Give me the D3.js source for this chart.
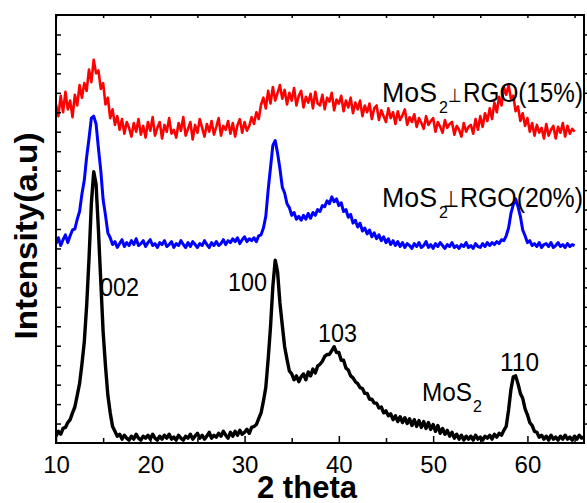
<!DOCTYPE html>
<html>
<head>
<meta charset="utf-8">
<script src="https://cdn.jsdelivr.net/npm/d3@7"></script>
<style>
  body { margin: 0; background: #fff; }
  text { font-family: "Liberation Sans", Arial, sans-serif; }
</style>
</head>
<body>
<div id="chartContainer"></div>
<script>
// 2 theta grid, 0.25 deg steps
const theta = d3.range(10, 66.001, 0.25)

const mos2 = [
  7, 12, 9, 15, 16, 21, 24, 31, 37, 49, 61, 81, 104, 141, 189, 246,
  279, 266, 219, 166, 114, 79, 49, 31, 17, 12, 7, 9, 4, 8, 5, 3,
  7, 4, 9, 5, 3, 7, 5, 8, 4, 9, 5, 3, 7, 4, 8, 5,
  9, 4, 6, 3, 8, 5, 3, 7, 5, 9, 4, 7, 10, 5, 8, 4,
  7, 11, 5, 8, 6, 10, 7, 12, 8, 5, 11, 7, 12, 8, 13, 9,
  11, 14, 10, 16, 17, 19, 25, 31, 43, 57, 86, 119, 161, 188, 176, 144,
  121, 99, 86, 74, 71, 65, 69, 63, 68, 71, 65, 73, 69, 76, 72, 79,
  81, 84, 89, 91, 91, 95, 99, 93, 93, 85, 85, 77, 75, 69, 67, 63,
  61, 57, 56, 51, 51, 45, 45, 41, 41, 36, 37, 31, 33, 28, 30, 24,
  28, 22, 27, 21, 26, 20, 25, 18, 24, 17, 23, 16, 22, 15, 21, 14,
  19, 12, 18, 10, 15, 9, 13, 7, 11, 5, 9, 4, 8, 3, 7, 4,
  7, 3, 8, 4, 6, 3, 7, 5, 8, 4, 9, 6, 10, 8, 13, 17,
  34, 55, 68, 69, 61, 51, 46, 35, 29, 21, 18, 12, 11, 6, 8, 4,
  7, 3, 8, 4, 6, 3, 7, 4, 8, 4, 6, 3, 7, 4, 8, 5,
  6
]

const rgo20 = [
  205, 211, 203, 209, 214, 206, 213, 219, 220, 230, 238, 256, 270, 294, 313, 334,
  336, 328, 303, 280, 250, 234, 216, 211, 204, 207, 201, 205, 209, 202, 206, 203,
  208, 204, 210, 203, 205, 208, 202, 206, 209, 203, 205, 201, 206, 204, 208, 202,
  204, 207, 201, 205, 203, 208, 204, 201, 206, 202, 207, 204, 201, 205, 203, 208,
  204, 201, 206, 203, 207, 203, 205, 209, 204, 208, 206, 210, 207, 211, 205, 209,
  212, 207, 210, 208, 211, 207, 213, 214, 221, 233, 260, 283, 306, 311, 298, 282,
  263, 257, 246, 242, 234, 237, 230, 233, 229, 234, 230, 236, 231, 237, 234, 240,
  238, 244, 243, 249, 246, 253, 248, 251, 244, 247, 238, 240, 232, 235, 226, 229,
  222, 226, 218, 221, 215, 219, 212, 216, 210, 214, 208, 212, 206, 210, 204, 208,
  203, 207, 202, 206, 201, 205, 203, 200, 205, 202, 206, 201, 203, 207, 201, 204,
  200, 205, 202, 206, 203, 200, 204, 202, 206, 201, 203, 200, 204, 202, 206, 201,
  203, 200, 205, 202, 201, 205, 202, 206, 203, 206, 204, 207, 205, 209, 208, 213,
  221, 236, 245, 251, 243, 233, 219, 213, 206, 208, 203, 205, 202, 206, 201, 204,
  205, 202, 206, 201, 203, 206, 202, 204, 201, 205, 202, 204,
  203
]

const rgo15 = [
  348, 336, 357, 340, 361, 343, 352, 335, 358, 347, 368, 355, 370, 362, 384, 371,
  394, 380, 383, 364, 370, 348, 355, 334, 343, 327, 336, 322, 333, 318, 330, 324,
  315, 329, 320, 333, 317, 326, 314, 330, 321, 335, 316, 324, 330, 313, 327, 320,
  334, 318, 322, 314, 329, 321, 335, 316, 323, 330, 312, 327, 319, 333, 324, 315,
  328, 320, 331, 317, 325, 334, 316, 326, 322, 331, 318, 329, 315, 327, 333, 319,
  330, 321, 326, 335, 328, 340, 333, 348, 355, 344, 362, 349, 366, 352, 360, 368,
  354, 363, 348, 360, 352, 365, 347, 357, 362, 345, 356, 350, 359, 344, 361, 349,
  347, 358, 343, 355, 351, 360, 342, 353, 349, 357, 341, 352, 345, 355, 339, 350,
  343, 352, 336, 347, 340, 349, 333, 344, 347, 332, 342, 336, 330, 344, 334, 340,
  328, 341, 332, 337, 343, 327, 335, 330, 338, 325, 334, 329, 323, 336, 327, 331,
  334, 320, 330, 325, 319, 332, 324, 328, 330, 317, 326, 322, 315, 329, 320, 325,
  327, 318, 333, 322, 336, 325, 339, 331, 344, 333, 350, 340, 356, 347, 366, 358,
  368, 354, 357, 341, 346, 331, 339, 326, 334, 320, 329, 316, 327, 319, 324, 313,
  328, 316, 322, 326, 313, 325, 319, 329, 315, 326, 318, 323,
  320
]

const series = [
  {name: "MoS2", values: mos2, color: "#000000", width: 3.4},
  {name: "MoS2-RGO(20%)", values: rgo20, color: "#0000ff", width: 3},
  {name: "MoS2-RGO(15%)", values: rgo15, color: "#ff0000", width: 2.6}
]

const xMajor = [10, 20, 30, 40, 50, 60]
const xMinor = [15, 25, 35, 45, 55, 65]

const peaks = [
  {label: "002", x: 100, y: 296},
  {label: "100", x: 228, y: 291},
  {label: "103", x: 318, y: 342},
  {label: "110", x: 500, y: 371}
]

const width = 587, height = 503
const margin = ({top: 15, right: 3, bottom: 60, left: 56})

const x = d3.scaleLinear()
    .domain([10, 66])
    .range([margin.left, width - margin.right])

const y = d3.scaleLinear()
    .domain([0, 440])
    .range([height - margin.bottom, margin.top])

const yTicks = d3.range(20, 440, 20)

const svg = d3.select('#chartContainer')
  .append('svg')
  .attr('width', width)
  .attr('height', height)

svg.append("clipPath")
    .attr("id", "plot")
  .append("rect")
    .attr("x", x(10))
    .attr("y", y(440))
    .attr("width", x(66) - x(10))
    .attr("height", y(0) - y(440))

let line = d3.line()
    .x((d, i) => x(theta[i]))
    .y(d => y(d))

svg.append("g")
    .attr("clip-path", "url(#plot)")
  .selectAll("path")
  .data(series)
  .join("path")
    .attr("fill", "none")
    .attr("stroke", d => d.color)
    .attr("stroke-width", d => d.width)
    .attr("stroke-linejoin", "round")
    .attr("d", d => line(d.values))

let noDomain = g => g.select(".domain").remove()

// bottom axis, ticks pointing in
svg.append("g")
    .attr("transform", `translate(0,${y(0)})`)
    .call(d3.axisBottom(x).tickValues(xMajor).tickSize(-7).tickPadding(13))
    .call(noDomain)
    .call(g => g.selectAll("line").attr("stroke-width", 1.5))
    .call(g => g.selectAll("text")
        .attr("font-size", 24)
        .attr("font-family", "Liberation Sans, Arial, sans-serif")
        .attr("fill", "#000"))

svg.append("g")
    .attr("transform", `translate(0,${y(0)})`)
    .call(d3.axisBottom(x).tickValues(xMinor).tickSize(-5).tickFormat(""))
    .call(noDomain)
    .call(g => g.selectAll("line").attr("stroke-width", 1.5))

svg.append("g")
    .attr("transform", `translate(0,${y(440)})`)
    .call(d3.axisTop(x).tickValues(xMajor.concat(xMinor)).tickSize(-3).tickFormat(""))
    .call(noDomain)
    .call(g => g.selectAll("line").attr("stroke-width", 1.5))

svg.append("g")
    .attr("transform", `translate(${x(10)},0)`)
    .call(d3.axisLeft(y).tickValues(yTicks).tickSize(-5).tickFormat(""))
    .call(noDomain)
    .call(g => g.selectAll("line").attr("stroke-width", 1.5))

svg.append("g")
    .attr("transform", `translate(${x(66)},0)`)
    .call(d3.axisRight(y).tickValues(yTicks).tickSize(3).tickFormat(""))
    .call(noDomain)
    .call(g => g.selectAll("line").attr("stroke-width", 1.5))

svg.append("rect")
    .attr("x", x(10))
    .attr("y", y(440))
    .attr("width", x(66) - x(10))
    .attr("height", y(0) - y(440))
    .attr("fill", "none")
    .attr("stroke", "#000")
    .attr("stroke-width", 2)

// axis titles
svg.append("text")
    .attr("x", 307)
    .attr("y", 498)
    .attr("text-anchor", "middle")
    .attr("font-size", 32)
    .attr("font-weight", "bold")
    .attr("textLength", 100)
    .attr("lengthAdjust", "spacingAndGlyphs")
    .text("2 theta")

svg.append("text")
    .attr("transform", "translate(37,236) rotate(-90)")
    .attr("text-anchor", "middle")
    .attr("font-size", 31)
    .attr("font-weight", "bold")
    .attr("textLength", 207)
    .attr("lengthAdjust", "spacingAndGlyphs")
    .text("Intensity(a.u)")

// peak indices
svg.append("g")
  .selectAll("text")
  .data(peaks)
  .join("text")
    .attr("x", d => d.x)
    .attr("y", d => d.y)
    .attr("font-size", 26)
    .attr("textLength", 39)
    .attr("lengthAdjust", "spacingAndGlyphs")
    .text(d => d.label)

// curve names: [text, x, baseline, size, length]
function tag(parts) {
  parts.forEach(([t, px, py, size, len]) => {
    let el = svg.append("text")
        .attr("x", px)
        .attr("y", py)
        .attr("font-size", size)
        .text(t)
    if (len) el.attr("textLength", len).attr("lengthAdjust", "spacingAndGlyphs")
    if (t === "\u22a5") el.attr("font-family", "DejaVu Sans")
  })
}

tag([["MoS", 382, 102, 27, 55], ["2", 439, 113, 16], ["\u22a5", 448, 102, 19, 14], ["RGO(15%)", 463, 102, 27, 120]])
tag([["MoS", 382, 207, 27, 55], ["2", 439, 218, 16], ["\u22a5", 443, 207, 23, 16], ["RGO(20%)", 460, 207, 27, 123]])
tag([["MoS", 422, 401, 26, 50], ["2", 473, 412, 16]])
</script>
</body>
</html>
